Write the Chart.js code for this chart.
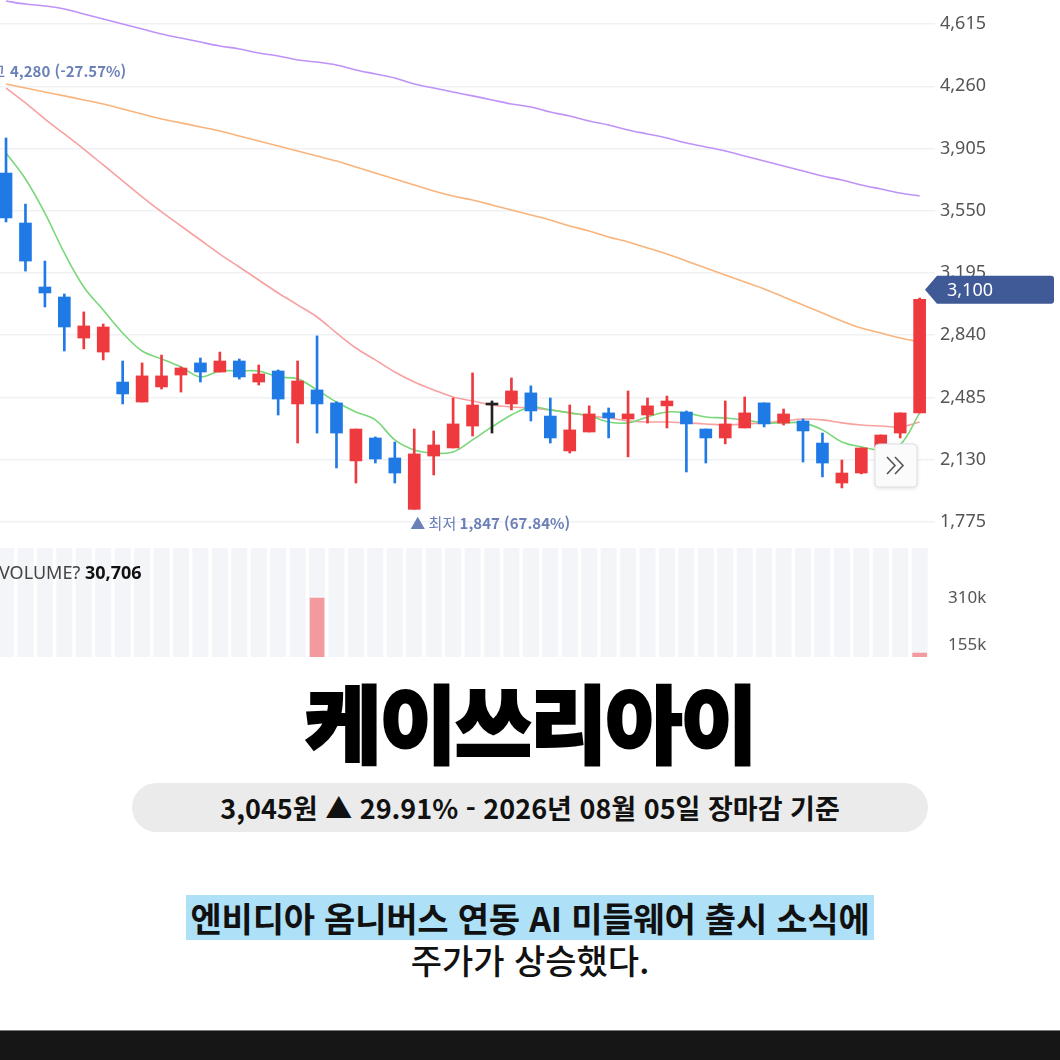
<!DOCTYPE html>
<html lang="ko">
<head>
<meta charset="utf-8">
<title>케이쓰리아이 주가</title>
<script src="https://cdn.jsdelivr.net/npm/chart.js@4.4.1/dist/chart.umd.min.js"></script>
<style>
  html, body { margin: 0; padding: 0; background: #fff; }
  body {
    width: 1060px; height: 1060px; position: relative; overflow: hidden;
    font-family: 'Noto Sans CJK KR', 'Noto Sans', sans-serif; color: #111;
  }
  #priceChart { position: absolute; left: 0; top: 0; }
  #volumeChart { position: absolute; left: 0; top: 548px; }
  .vol-label {
    position: absolute; left: -1px; top: 560px;
    font-family: 'Noto Sans', sans-serif; font-size: 18px; line-height: 24px; color: #444;
  }
  .vol-label b { color: #111; }
  .title {
    position: absolute; left: 0; top: 678px; width: 1060px; height: 84px;
    text-align: center; font-size: 84px; line-height: 84px; font-weight: 900;
    letter-spacing: -2px; transform: scaleY(1.02); color: #000;
    -webkit-text-stroke: 2px #000;
  }
  .pill {
    position: absolute; left: 132px; top: 783px; width: 796px; height: 49px;
    border-radius: 25px; background: #ebebeb;
    display: flex; align-items: center; justify-content: center;
    font-size: 27px; font-weight: 700;
  }
  .headline {
    position: absolute; left: 0; top: 895px; width: 1060px; text-align: center;
  }
  .headline span {
    display: inline-block; background: #aee0f8; height: 45px; line-height: 45px;
    padding: 0 4px; font-size: 34px; font-weight: 700; letter-spacing: -0.2px;
  }
  .subline {
    position: absolute; left: 0; top: 940px; width: 1060px; text-align: center;
    font-size: 34px; line-height: 40px; font-weight: 500;
  }
  .footer {
    position: absolute; left: 0; top: 1030px; width: 1060px; height: 30px;
    background: #161616; border-top: 1px solid #7a7a7a;
  }
</style>
</head>
<body>
<canvas id="priceChart" width="1060" height="540"></canvas>
<canvas id="volumeChart" width="1060" height="109"></canvas>
<div class="vol-label">VOLUME? <b>30,706</b></div>
<div class="title">케이쓰리아이</div>
<div class="pill">3,045원 ▲ 29.91% - 2026년 08월 05일 장마감 기준</div>
<div class="headline"><span>엔비디아 옴니버스 연동 AI 미들웨어 출시 소식에</span></div>
<div class="subline">주가가 상승했다.</div>
<div class="footer"></div>

<script>
// daily candles, oldest first (KRW)
const opens = [3765, 3480, 3115, 3058, 2824, 2744, 2573, 2459, 2545, 2613, 2682, 2630,
  2693, 2573, 2636, 2448, 2528, 2454, 2123, 2254, 2140, 1847, 2151, 2197,
  2322, 2442, 2448, 2511, 2379, 2180, 2288, 2397, 2362, 2385, 2437, 2402,
  2305, 2254, 2311, 2454, 2339, 2351, 2225, 1997, 2054, 2203, 2282, 2397];
const highs = [3965, 3588, 3263, 3075, 2973, 2904, 2693, 2682, 2727, 2659, 2710, 2744,
  2704, 2670, 2642, 2693, 2836, 2460, 2305, 2260, 2231, 2305, 2294, 2482,
  2625, 2465, 2596, 2551, 2482, 2442, 2437, 2425, 2522, 2482, 2493, 2408,
  2305, 2465, 2488, 2454, 2419, 2362, 2282, 2128, 2197, 2271, 2397, 3052];
const lows = [3486, 3206, 3001, 2750, 2762, 2699, 2448, 2459, 2533, 2516, 2573, 2630,
  2590, 2556, 2385, 2225, 2282, 2083, 1997, 2111, 1997, 1847, 2043, 2197,
  2265, 2282, 2414, 2351, 2225, 2168, 2288, 2254, 2146, 2339, 2311, 2060,
  2111, 2220, 2311, 2317, 2328, 2117, 2032, 1969, 2049, 2186, 2254, 2397];
const closes = [3509, 3263, 3081, 2887, 2893, 2887, 2505, 2608, 2608, 2653, 2630, 2693,
  2602, 2619, 2476, 2579, 2448, 2282, 2305, 2134, 2054, 2163, 2214, 2334,
  2442, 2442, 2522, 2408, 2254, 2300, 2391, 2368, 2391, 2437, 2465, 2334,
  2254, 2334, 2397, 2334, 2391, 2294, 2111, 2054, 2197, 2271, 2397, 3045];
const volumes = [95000, 88000, 62000, 71000, 54000, 58000, 67000, 49000, 45000, 38000, 36000, 41000,
  33000, 35000, 52000, 84000, 310000, 76000, 69000, 43000, 47000, 92000, 58000, 63000,
  74000, 39000, 46000, 37000, 44000, 41000, 35000, 32000, 48000, 31000, 34000, 57000,
  42000, 38000, 36000, 33000, 29000, 45000, 51000, 47000, 39000, 36000, 44000, 128000];

// moving averages as drawn on the chart
const ma5 = [3879, 3731, 3537, 3309, 3115, 2984, 2853, 2750, 2705, 2659, 2602, 2636,
  2636, 2636, 2602, 2591, 2528, 2459, 2402, 2357, 2243, 2186, 2168, 2174,
  2243, 2317, 2385, 2431, 2414, 2397, 2380, 2345, 2340, 2374, 2402, 2397,
  2374, 2368, 2357, 2340, 2340, 2340, 2300, 2231, 2203, 2186, 2215, 2397];
const ma20 = [4250, 4165, 4073, 3988, 3902, 3811, 3720, 3629, 3543, 3463, 3383, 3303,
  3229, 3155, 3081, 3013, 2944, 2853, 2767, 2699, 2630, 2573, 2528, 2488,
  2465, 2442, 2431, 2425, 2414, 2397, 2380, 2368, 2351, 2345, 2345, 2340,
  2334, 2328, 2334, 2340, 2351, 2362, 2357, 2340, 2328, 2322, 2317, 2345];
const ma60 = [4273, 4250, 4227, 4205, 4182, 4159, 4130, 4102, 4073, 4051, 4028, 4005,
  3976, 3948, 3919, 3891, 3862, 3834, 3800, 3765, 3731, 3697, 3663, 3634,
  3611, 3583, 3554, 3526, 3497, 3463, 3435, 3400, 3372, 3338, 3303, 3264,
  3224, 3184, 3144, 3104, 3058, 3013, 2967, 2921, 2881, 2853, 2824, 2802];
const ma120 = [4746, 4729, 4718, 4701, 4672, 4644, 4615, 4587, 4558, 4535, 4512, 4490,
  4473, 4450, 4433, 4410, 4398, 4381, 4353, 4330, 4307, 4273, 4250, 4227,
  4205, 4182, 4159, 4142, 4113, 4090, 4062, 4039, 4011, 3988, 3965, 3936,
  3914, 3891, 3862, 3834, 3805, 3777, 3748, 3725, 3697, 3674, 3651, 3634];

const priceTicks = [1775, 2130, 2485, 2840, 3195, 3550, 3905, 4260, 4615];
const volumeTicks = [155000, 310000];

// markers shown on the chart
const periodHigh = 4280;
const periodLow = 1847;
const lowIndex = 21;
const currentPrice = 3100;

const UP = '#ee3a3e';
const DOWN = '#1f7ae6';
const FLAT = '#222222';
const NOTE = '#6c80b8';

// visible window (chart is scrolled so the first candle is cut at the left edge)
const X_MIN = -0.31;
const X_MAX = 47.79;
const AXIS_WIDTH = 125;

const idx = closes.map((_, i) => i);

function candleColor(i) {
  if (closes[i] > opens[i]) return UP;
  if (closes[i] < opens[i]) return DOWN;
  return FLAT;
}

function maLine(label, values, color) {
  return {
    type: 'line',
    label: label,
    data: values.map((v, i) => ({ x: i, y: v })),
    borderColor: color,
    borderWidth: 1.6,
    pointRadius: 0,
    tension: 0.35,
    order: 2
  };
}

const fmt = (v) => v.toLocaleString('en-US');

// right axis of fixed width, no extra room for the end labels
function fitAxis(s) {
  s.width = AXIS_WIDTH;
  s.paddingTop = 0;
  s.paddingBottom = 0;
}

/**
 * Labels for the high / low, the current price tag and the scroll button
 */
const priceOverlay = {
  id: 'priceOverlay',
  afterDraw(chart) {
    const { ctx, scales } = chart;
    const y = scales.y;
    const x = scales.x;
    ctx.save();

    // period high (candle itself is off screen to the left)
    const hy = y.getPixelForValue(periodHigh) - 11;
    ctx.fillStyle = NOTE;
    ctx.textBaseline = 'middle';
    ctx.font = '500 15px "Noto Sans CJK KR"';
    ctx.textAlign = 'right';
    ctx.fillText('최고', 5, hy);
    ctx.textAlign = 'left';
    ctx.font = '600 15px "Noto Sans CJK KR"';
    ctx.fillText(fmt(periodHigh) + ' (-27.57%)', 10, hy);

    // period low
    const ly = y.getPixelForValue(periodLow) + 14;
    let lx = x.getPixelForValue(lowIndex) - 4;
    ctx.font = '400 15px "Noto Sans CJK KR"';
    const pre = '▲ 최저 ';
    ctx.fillText(pre, lx, ly);
    lx += ctx.measureText(pre).width;
    ctx.font = '600 15px "Noto Sans CJK KR"';
    ctx.fillText(fmt(periodLow) + ' (67.84%)', lx, ly);

    // current price tag on the axis
    const cy = y.getPixelForValue(currentPrice);
    const left = chart.chartArea.right - 10;
    ctx.fillStyle = '#3f5a97';
    ctx.beginPath();
    ctx.moveTo(left, cy);
    ctx.lineTo(left + 12, cy - 14);
    ctx.lineTo(1051, cy - 14);
    ctx.quadraticCurveTo(1054, cy - 14, 1054, cy - 11);
    ctx.lineTo(1054, cy + 11);
    ctx.quadraticCurveTo(1054, cy + 14, 1051, cy + 14);
    ctx.lineTo(left + 12, cy + 14);
    ctx.closePath();
    ctx.fill();
    ctx.fillStyle = '#fff';
    ctx.font = '18px "Noto Sans"';
    ctx.fillText(fmt(currentPrice), left + 22, cy + 1);

    // scroll-to-latest button
    const bx = 875, by = 444, bw = 42, bh = 43;
    ctx.shadowColor = 'rgba(0,0,0,0.15)';
    ctx.shadowBlur = 4;
    ctx.shadowOffsetY = 1;
    ctx.fillStyle = '#fbfbfc';
    ctx.beginPath();
    ctx.roundRect(bx, by, bw, bh, 4);
    ctx.fill();
    ctx.shadowColor = 'transparent';
    ctx.strokeStyle = '#dcdfe4';
    ctx.lineWidth = 1;
    ctx.stroke();
    ctx.strokeStyle = '#555';
    ctx.lineWidth = 1.6;
    [887, 895].forEach((cx) => {
      ctx.beginPath();
      ctx.moveTo(cx, by + 13);
      ctx.lineTo(cx + 8, by + 21.5);
      ctx.lineTo(cx, by + 30);
      ctx.stroke();
    });
    ctx.restore();
  }
};

/**
 * Light column behind every session in the volume pane
 */
const volumeStripes = {
  id: 'volumeStripes',
  beforeDatasetsDraw(chart) {
    const { ctx, chartArea, scales } = chart;
    ctx.save();
    ctx.fillStyle = '#f4f5f9';
    idx.forEach((i) => {
      const px = scales.x.getPixelForValue(i);
      ctx.fillRect(px - 8, chartArea.top, 16, chartArea.bottom - chartArea.top);
    });
    ctx.restore();
  }
};

const colors = idx.map(candleColor);

const xScale = { type: 'linear', min: X_MIN, max: X_MAX, offset: false, display: false };

const priceChart = new Chart(document.getElementById('priceChart'), {
  type: 'bar',
  data: {
    datasets: [
      {
        label: 'body',
        data: idx.map((i) => ({ x: i, y: [opens[i], closes[i]] })),
        backgroundColor: colors,
        barThickness: 12,
        minBarLength: 2,
        grouped: false,
        order: 0
      },
      {
        label: 'wick',
        data: idx.map((i) => ({ x: i, y: [lows[i], highs[i]] })),
        backgroundColor: colors,
        barThickness: 2,
        grouped: false,
        order: 1
      },
      maLine('MA5', ma5, '#7ad77a'),
      maLine('MA20', ma20, '#f9a0a0'),
      maLine('MA60', ma60, '#f9b47c'),
      maLine('MA120', ma120, '#bf92f7')
    ]
  },
  options: {
    responsive: false,
    animation: false,
    events: [],
    layout: { padding: 0, autoPadding: false },
    plugins: {
      legend: { display: false },
      tooltip: { enabled: false }
    },
    scales: {
      x: xScale,
      y: {
        position: 'right',
        min: 1672,
        max: 4752,
        afterFit: fitAxis,
        afterBuildTicks: (s) => { s.ticks = priceTicks.map((v) => ({ value: v })); },
        ticks: {
          padding: 5,
          color: '#555',
          font: { family: 'Noto Sans', size: 18 },
          callback: (v) => fmt(v)
        },
        grid: { color: '#eff1f5', lineWidth: 1.5, drawTicks: false },
        border: { display: false }
      }
    }
  },
  plugins: [priceOverlay]
});

const volumeChart = new Chart(document.getElementById('volumeChart'), {
  type: 'bar',
  data: {
    datasets: [{
      label: 'volume',
      data: idx.map((i) => ({ x: i, y: volumes[i] })),
      backgroundColor: '#f29a9d',
      barThickness: 14
    }]
  },
  options: {
    responsive: false,
    animation: false,
    events: [],
    layout: { padding: 0, autoPadding: false },
    plugins: {
      legend: { display: false },
      tooltip: { enabled: false }
    },
    scales: {
      x: xScale,
      y: {
        position: 'right',
        min: 115000,
        max: 475000,
        afterFit: fitAxis,
        afterBuildTicks: (s) => { s.ticks = volumeTicks.map((v) => ({ value: v })); },
        ticks: {
          padding: 5,
          color: '#555',
          font: { family: 'Noto Sans', size: 17 },
          callback: (v) => (v / 1000) + 'k'
        },
        grid: { display: false },
        border: { display: false }
      }
    }
  },
  plugins: [volumeStripes]
});
</script>
</body>
</html>
